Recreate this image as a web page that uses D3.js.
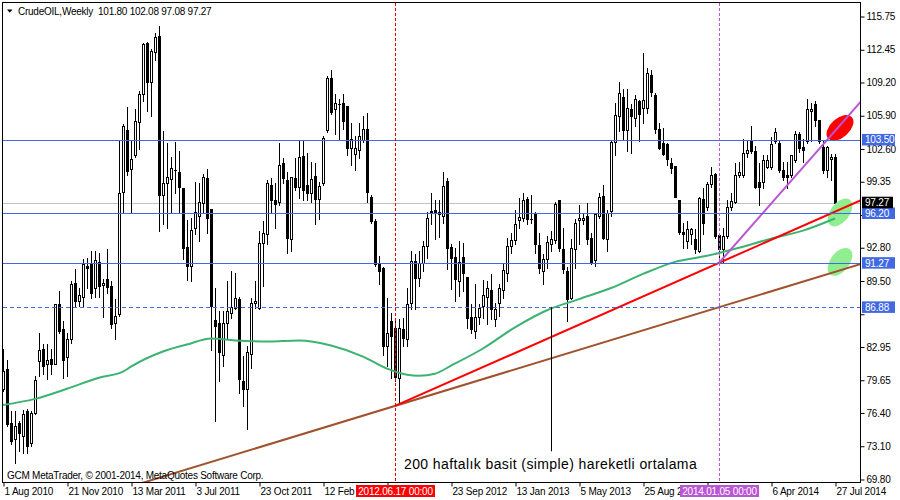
<!DOCTYPE html>
<html><head><meta charset="utf-8">
<script src="https://cdn.jsdelivr.net/npm/d3@7"></script>
<style>body{margin:0;background:#fff}svg{display:block}</style>
</head><body><svg id="c" width="900" height="500"></svg>
<script>
// ---- DATA (weekly candles, first week = 1 Aug 2010) ----
const symbolTitle = "CrudeOIL,Weekly";
const openP = [78.8,80.8,75.4,73.8,75.4,74.1,76.6,73.4,76.4,81.6,
82.8,81.3,81.8,81.3,87.2,84.7,82.0,83.7,89.3,87.5,
87.9,91.0,91.2,88.8,91.4,89.1,89.7,89.0,85.3,86.2,
98.3,104.5,100.6,102.0,105.3,108.1,113.1,109.2,112.2,113.8,
98.0,99.2,99.6,100.5,100.3,98.7,92.9,91.0,94.8,96.0,
97.2,99.7,96.6,85.6,85.3,82.2,85.3,86.3,86.8,87.7,
79.6,78.8,82.3,87.3,86.8,93.3,94.2,99.0,97.5,97.3,
101.2,99.5,93.7,99.7,98.8,101.9,99.0,98.2,99.9,97.6,
99.2,104.5,109.6,106.6,107.1,107.2,106.9,102.7,102.1,102.5,
103.5,104.6,97.8,95.5,91.2,90.8,83.0,85.5,84.8,79.9,
84.7,83.7,87.3,91.5,89.8,91.3,93.0,96.4,96.5,96.1,
96.0,99.4,92.9,91.9,89.5,91.9,89.9,85.9,84.5,85.9,
87.0,87.9,88.6,85.7,87.3,88.6,90.3,93.0,93.6,95.6,
95.8,97.6,95.7,96.2,93.1,90.5,91.7,93.2,93.6,97.5,
92.7,90.5,87.8,92.7,95.6,95.6,96.0,93.8,91.6,96.0,
97.9,93.7,96.4,103.3,105.9,107.8,104.5,106.6,105.7,107.4,
106.7,106.7,109.9,108.0,104.6,103.2,103.1,101.2,100.9,97.5,
94.4,93.5,94.2,93.7,92.5,97.6,96.8,99.1,100.1,94.1,
92.7,94.0,96.8,97.3,100.0,100.0,102.2,103.4,102.4,99.3,
99.3,100.8,100.8,103.4,103.2,100.5,100.0,100.0,101.5,104.1,
102.8,103.4,106.4,107.1,105.5,102.8,100.5,101.6,101.80];
const highP = [82.8,81.7,76.6,76.6,75.6,76.7,76.8,76.6,80.1,84.3,
83.2,83.2,82.8,87.2,88.5,85.5,84.3,89.5,90.7,88.8,
91.7,91.8,92.5,92.5,92.3,89.7,92.7,89.5,87.7,103.4,
105.1,106.8,103.4,106.6,108.4,113.1,113.2,112.5,114.1,114.8,
104.4,103.2,101.8,103.3,102.4,98.7,95.6,95.8,99.3,99.2,
100.1,100.6,96.6,88.8,86.5,86.5,89.5,90.5,90.3,87.9,
82.1,83.0,87.8,89.5,94.5,95.5,99.5,99.7,99.2,103.2,
101.7,100.3,99.8,101.7,103.5,103.4,102.2,101.3,101.2,99.3,
103.9,109.8,110.4,108.1,107.6,108.1,106.9,105.2,103.9,105.2,
105.9,106.2,98.0,95.7,92.0,90.9,87.8,86.3,85.7,85.7,
85.8,88.8,92.5,92.2,92.5,93.5,96.3,98.2,97.5,97.5,
100.3,99.7,93.2,92.8,93.5,93.3,89.9,87.2,89.2,87.2,
89.6,89.5,90.2,87.3,89.2,91.3,93.8,94.3,96.5,97.7,
98.2,97.8,98.0,96.3,94.3,92.2,94.0,94.5,97.3,97.5,
94.8,90.9,93.7,95.7,97.0,96.2,97.2,94.3,96.2,98.2,
99.0,96.5,103.4,107.2,109.2,108.6,108.6,107.1,108.0,107.5,
112.1,110.6,110.4,108.2,105.2,104.7,103.2,101.7,100.9,97.5,
95.3,95.5,94.8,94.7,97.8,98.7,99.3,100.8,100.2,94.3,
94.8,97.5,98.2,101.2,101.3,103.6,103.4,104.9,102.9,101.2,
102.0,102.0,103.8,104.7,103.4,101.3,101.3,102.0,104.4,104.3,
103.6,107.6,107.2,107.4,105.5,103.4,102.9,102.1,102.08];
const lowP = [78.6,75.1,73.3,71.4,72.6,72.4,72.4,73.1,76.3,80.1,
80.3,79.8,80.3,81.3,84.3,79.9,80.1,83.3,87.0,87.0,
87.0,88.8,87.8,87.9,87.9,85.9,88.3,84.8,83.7,86.0,
96.3,100.0,96.2,101.8,102.6,107.4,106.4,105.9,111.4,94.5,
95.2,94.8,96.2,98.2,96.2,91.7,89.6,89.5,94.2,93.5,
96.3,94.3,82.7,75.6,79.6,81.1,83.8,85.8,86.7,78.4,
77.1,74.8,80.9,86.8,86.7,89.0,93.2,96.2,94.8,97.0,
99.2,92.3,92.5,98.5,97.7,97.5,97.5,97.3,95.2,95.7,
99.0,104.3,106.1,104.1,103.6,104.6,102.0,101.0,100.5,101.7,
103.3,97.3,95.3,91.0,89.2,82.2,81.1,79.9,79.6,77.4,
83.0,83.0,86.7,86.7,89.0,90.5,91.8,95.2,93.7,93.9,
95.3,90.7,88.7,87.5,88.0,88.5,84.8,84.3,83.8,85.2,
85.8,85.2,85.7,85.0,86.0,87.8,89.5,92.3,93.2,94.8,
95.5,95.2,95.3,92.3,90.3,89.2,90.8,92.5,93.3,92.5,
90.3,85.5,87.7,90.8,93.2,95.2,93.2,91.2,91.0,95.8,
93.7,92.5,96.0,102.0,104.4,103.6,102.4,102.2,104.9,103.4,
105.2,106.2,107.9,104.2,102.6,102.0,101.0,100.2,97.8,94.2,
92.8,92.8,93.2,92.3,92.4,94.2,96.5,98.8,93.8,91.3,
91.3,93.8,96.5,97.2,99.8,99.8,101.8,102.2,98.7,97.0,
98.7,100.7,100.6,103.2,100.3,99.5,98.7,99.8,101.3,102.3,
101.3,103.2,103.4,104.9,103.2,100.2,99.8,99.5,97.08];
const closeP = [80.6,75.3,73.6,75.1,74.4,76.3,73.1,76.4,79.7,82.7,
81.1,81.7,81.3,87.2,84.5,81.7,83.7,89.2,87.5,88.1,
91.2,90.8,88.3,91.6,89.0,89.3,88.9,85.2,86.0,98.2,
104.9,100.4,101.6,105.4,108.1,113.0,109.2,112.3,113.7,98.0,
99.2,99.8,100.7,100.5,98.8,92.8,91.0,94.6,96.3,97.3,
99.8,95.8,87.0,85.0,82.5,85.3,86.5,86.9,87.8,79.8,
78.8,82.5,87.3,87.5,93.3,94.3,99.2,97.5,97.1,101.0,
99.7,93.8,99.8,98.8,101.8,98.5,98.2,99.6,97.6,98.9,
103.7,109.6,106.3,107.2,107.1,105.4,102.7,103.6,102.7,103.9,
104.6,98.3,95.5,91.2,90.5,83.0,84.3,84.0,80.0,84.8,
83.8,87.2,91.5,89.8,91.3,93.0,95.8,96.2,96.2,96.3,
98.9,92.8,91.8,89.7,91.4,90.3,85.8,84.7,85.9,86.8,
88.1,88.8,86.7,86.7,88.8,90.6,93.0,93.6,95.2,95.9,
97.5,95.7,95.7,93.2,90.8,91.7,93.4,93.7,97.1,92.8,
90.7,87.7,92.8,95.3,95.8,95.8,93.7,91.4,96.1,97.8,
93.8,96.2,103.3,106.0,108.2,104.5,106.7,105.9,107.6,106.1,
107.5,110.1,108.3,104.6,102.7,102.1,101.6,100.7,97.8,94.4,
94.2,94.7,94.7,92.7,97.7,95.3,99.1,100.0,94.0,92.7,
94.0,96.8,97.4,100.0,100.3,102.2,102.5,102.4,98.8,98.8,
101.5,101.5,103.1,104.3,100.5,99.8,99.8,102.0,104.1,102.7,
102.5,106.6,106.6,105.5,103.4,100.5,102.8,101.8,97.27];

// 200-week simple moving average, read at sample weeks
const maWeeks  = [0,8,16,24,30,32,40,46,52,58,66,74,82,90,96,101,104,108,112,120,128,136,144,152,160,168,176,184,192,200,208];
const maValues = [77.2,77.8,78.8,79.9,80.5,81.0,82.5,83.2,83.8,83.6,83.5,83.6,83.1,82.0,80.8,80.2,80.1,80.3,81.1,82.8,84.9,86.6,87.7,88.8,90.2,91.4,92.0,92.8,93.7,94.5,95.7];

// y axis ticks (labels hidden behind level boxes are left blank)
const yTicks = [115.75,112.45,109.20,105.90,102.60,99.35,96.05,92.80,89.50,86.20,82.95,79.65,76.40,73.10,69.80];
const yTickLabels = ["115.75","112.45","109.20","105.90","102.60","99.35","","92.80","89.50","","82.95","79.65","76.40","73.10","69.80"];
// x axis ticks (week index) and the visible part of each label
const xTickWeeks  = [0,16,32,48,64,80,96,112,128,144,160,176,192,208];
const xTickLabels = ["1 Aug 2010","21 Nov 2010","13 Mar 2011","3 Jul 2011","23 Oct 2011","12 Feb","","23 Sep 2012","13 Jan 2013","5 May 2013","25 Aug 2","","6 Apr 2014","27 Jul 2014"];

// horizontal levels
const solidLevels = [103.50, 96.20, 91.27];
const dashedLevels = [86.88];
// trend-line anchors [week, price]
const brownTrend  = [[98, 77.1],[208, 90.4]];
const redTrend    = [[98, 77.1],[179, 91.3]];
const purpleTrend = [[179, 91.3],[208, 104.4]];
// vertical markers
const markerWeeks  = [98, 179];
const markerLabels = ["2012.06.17 00:00", "2014.01.05 00:00"];
// annotation
const noteWeek = 137, noteTop = 86.9, noteBottom = 72.6;
const noteText = "200 haftalık basit (simple) hareketli ortalama";
const copyright = "GCM MetaTrader, © 2001-2014, MetaQuotes Software Corp.";
// highlight blobs [week, price]
const redBlob = [[209.25, 104.7]];
const greenBlobs = [[209.25, 96.3],[209.25, 91.4]];

// ---- DRAW ----
const FONT = "'Liberation Sans', Arial, sans-serif";
const svg = d3.select("#c");
const x = d3.scaleLinear().domain([0, 214.25]).range([3, 860]);
const y = d3.scaleLinear().domain([69.80, 115.75]).range([479.5, 16.5]);
const n = closeP.length;
const blue = "#4169e1";

svg.append("defs").append("clipPath").attr("id","plot")
  .append("rect").attr("x",3).attr("y",3).attr("width",857).attr("height",479);

svg.append("rect").attr("width",900).attr("height",500).attr("fill","#fff");

const plot = svg.append("g").attr("clip-path","url(#plot)");

// current price line
plot.append("line").attr("x1",3).attr("x2",860)
  .attr("y1",Math.round(y(closeP[n-1]))+0.5).attr("y2",Math.round(y(closeP[n-1]))+0.5)
  .attr("stroke","#c0c0c0").attr("stroke-width",1);

// candles
const cg = plot.append("g").attr("shape-rendering","crispEdges");
for (let i=0;i<n;i++){
  const cx = Math.round(x(i));
  const yo = Math.round(y(openP[i])), yc = Math.round(y(closeP[i]));
  const yh = Math.round(y(highP[i])), yl = Math.round(y(lowP[i]));
  cg.append("rect").attr("x",cx).attr("y",yh).attr("width",1).attr("height",Math.max(1,yl-yh+1)).attr("fill","#000");
  const top = Math.min(yo,yc), bot = Math.max(yo,yc);
  if (closeP[i] < openP[i] || bot-top < 2) {
    cg.append("rect").attr("x",cx-1).attr("y",top).attr("width",3).attr("height",Math.max(1,bot-top+1)).attr("fill","#000");
  } else {
    cg.append("rect").attr("x",cx-0.5).attr("y",top+0.5).attr("width",2).attr("height",bot-top)
      .attr("fill","#fff").attr("stroke","#000").attr("stroke-width",1);
  }
}

// blobs
redBlob.forEach(b=>{
  plot.append("ellipse").attr("cx",x(b[0])).attr("cy",y(b[1])).attr("rx",16).attr("ry",9.5)
    .attr("transform",`rotate(-42 ${x(b[0])} ${y(b[1])})`).attr("fill","#ff0000");
});
greenBlobs.forEach(b=>{
  plot.append("ellipse").attr("cx",x(b[0])).attr("cy",y(b[1])).attr("rx",16).attr("ry",9.5)
    .attr("transform",`rotate(-52 ${x(b[0])} ${y(b[1])})`).attr("fill","#90ee90");
});

// moving average
const maLine = d3.line().x((d,i)=>x(maWeeks[i])).y(d=>y(d)).curve(d3.curveMonotoneX);
plot.append("path").attr("d",maLine(maValues)).attr("fill","none")
  .attr("stroke","#3cb371").attr("stroke-width",2);

// trend lines
function trend(a, from, to, color){
  const s = (a[1][1]-a[0][1])/(a[1][0]-a[0][0]);
  const f = w => a[0][1] + s*(w-a[0][0]);
  plot.append("line").attr("x1",x(from)).attr("y1",y(f(from)))
    .attr("x2",x(to)).attr("y2",y(f(to)))
    .attr("stroke",color).attr("stroke-width",2);
}
trend(brownTrend, 20, 216, "#a0522d");
trend(redTrend, redTrend[0][0], 216, "#ff0000");
trend(purpleTrend, purpleTrend[0][0], 216, "#ba55d3");

// horizontal levels
solidLevels.forEach(v=>{
  const yy = Math.round(y(v))+0.5;
  plot.append("line").attr("x1",3).attr("x2",860).attr("y1",yy).attr("y2",yy)
    .attr("stroke",blue).attr("stroke-width",1);
});
dashedLevels.forEach(v=>{
  const yy = Math.round(y(v))+0.5;
  plot.append("line").attr("x1",3).attr("x2",860).attr("y1",yy).attr("y2",yy)
    .attr("stroke",blue).attr("stroke-width",1).attr("stroke-dasharray","4,3");
});

// vertical dashed markers
const markerColors = ["#e00000","#ba55d3"];
markerWeeks.forEach((w,k)=>{
  const xx = Math.round(x(w))+0.5;
  plot.append("line").attr("x1",xx).attr("x2",xx).attr("y1",3).attr("y2",482)
    .attr("stroke",markerColors[k]).attr("stroke-width",1).attr("stroke-dasharray","3,2");
});

// annotation line
const ax = Math.round(x(noteWeek))+0.5;
plot.append("line").attr("x1",ax).attr("x2",ax).attr("y1",y(noteTop)).attr("y2",y(noteBottom))
  .attr("stroke","#000").attr("stroke-width",1);
svg.append("text").attr("x",404).attr("y",469).attr("font-family",FONT).attr("font-size",14)
  .attr("letter-spacing","0.4").attr("fill","#000").text(noteText);

// copyright
svg.append("text").attr("x",7).attr("y",479).attr("font-family",FONT).attr("font-size",10)
  .attr("letter-spacing","-0.25").attr("fill","#000").text(copyright);

// frame
svg.append("rect").attr("x",2.5).attr("y",2.5).attr("width",858).attr("height",480)
  .attr("fill","none").attr("stroke","#000").attr("stroke-width",1).attr("shape-rendering","crispEdges");

// y axis
const yAxis = d3.axisRight(y).tickValues(yTicks).tickFormat((d,i)=>yTickLabels[i]).tickSize(4).tickPadding(2);
const ya = svg.append("g").attr("transform","translate(860.5,0)").call(yAxis);
ya.select(".domain").remove();
ya.selectAll("text").attr("font-family",FONT).attr("font-size",10).attr("letter-spacing","-0.2").attr("fill","#000");

// x axis
const xAxis = d3.axisBottom(x).tickValues(xTickWeeks).tickFormat((d,i)=>xTickLabels[i]).tickSize(4).tickPadding(1);
const xa = svg.append("g").attr("transform","translate(0.5,482.5)").call(xAxis);
xa.select(".domain").remove();
xa.selectAll("text").attr("text-anchor","start").attr("dx","0.5").attr("font-family",FONT)
  .attr("font-size",10).attr("letter-spacing","-0.2").attr("fill","#000");

// price label boxes
function yBox(v, fill, w){
  const yy = y(v);
  svg.append("rect").attr("x",862).attr("y",yy-6).attr("width",w).attr("height",11.5).attr("fill",fill);
  svg.append("text").attr("x",865).attr("y",yy+3.4).attr("font-family",FONT).attr("font-size",10)
    .attr("letter-spacing","-0.2").attr("fill","#fff").text(d3.format(".2f")(v));
}
dashedLevels.forEach(v=>yBox(v, blue, 33));
solidLevels.forEach(v=>yBox(v, blue, 33));
yBox(closeP[n-1], "#000", 31);

// date marker boxes
markerWeeks.forEach((w,k)=>{
  const xx = x(w);
  svg.append("rect").attr("x",xx-39).attr("y",485).attr("width",79).attr("height",12).attr("fill",["#ff0000","#ba55d3"][k]);
  svg.append("text").attr("x",xx+0.5).attr("y",494.5).attr("text-anchor","middle").attr("font-family",FONT)
    .attr("font-size",10).attr("letter-spacing","-0.2").attr("fill","#fff").text(markerLabels[k]);
});

// title
svg.append("path").attr("d","M7,9.5L12.5,9.5L9.75,12.8Z").attr("fill","#000");
const f2 = d3.format(".2f");
svg.append("text").attr("x",18).attr("y",14.5).attr("font-family",FONT).attr("font-size",10)
  .attr("letter-spacing","-0.25").attr("fill","#000").attr("xml:space","preserve")
  .text(`${symbolTitle}  ${f2(openP[n-1])} ${f2(highP[n-1])} ${f2(lowP[n-1])} ${f2(closeP[n-1])}`);
</script>
</body></html>
